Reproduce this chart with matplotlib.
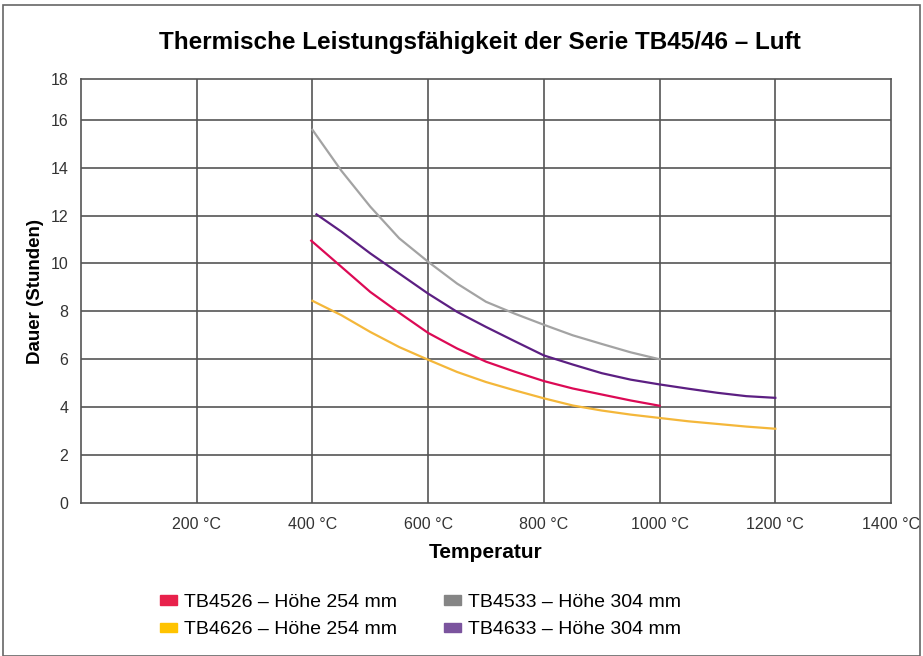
import matplotlib.pyplot as plt
from matplotlib.patches import Patch, Rectangle

plt.rcParams['font.family'] = ['Liberation Sans', 'DejaVu Sans']

# data (temperature in degC, duration in hours)
temp_tb4526 = [398, 450, 500, 550, 600, 650, 700, 750, 800, 850, 900, 950, 1000]
dur_tb4526 = [10.95, 9.86, 8.81, 7.94, 7.10, 6.45, 5.90, 5.48, 5.09, 4.78, 4.53, 4.28, 4.06]

temp_tb4626 = [400, 450, 500, 550, 600, 650, 700, 750, 800, 850, 900, 950,
               1000, 1050, 1100, 1150, 1200]
dur_tb4626 = [8.44, 7.84, 7.14, 6.51, 5.98, 5.47, 5.05, 4.70, 4.37, 4.07, 3.86, 3.69,
              3.55, 3.41, 3.30, 3.19, 3.10]

temp_tb4533 = [400, 450, 500, 550, 600, 650, 700, 750, 800, 850, 900, 950, 1000]
dur_tb4533 = [15.58, 13.87, 12.37, 11.05, 10.07, 9.16, 8.40, 7.90, 7.44, 7.00, 6.64, 6.29, 6.0]

temp_tb4633 = [407, 450, 500, 550, 600, 650, 700, 750, 800, 850, 900, 950,
               1000, 1050, 1100, 1150, 1200]
dur_tb4633 = [12.05, 11.33, 10.42, 9.58, 8.74, 7.98, 7.35, 6.75, 6.16, 5.78, 5.42, 5.15,
              4.95, 4.77, 4.60, 4.46, 4.39]

x_ticks = [200, 400, 600, 800, 1000, 1200, 1400]
x_labels = ['200 °C', '400 °C', '600 °C', '800 °C', '1000 °C', '1200 °C', '1400 °C']
y_ticks = [0, 2, 4, 6, 8, 10, 12, 14, 16]
y_labels = ['0', '2', '4', '6', '8', '10', '12', '14', '16', '18']
y_top = 17.7  # plot area in the reference stops a bit below 18

series_labels = ['TB4526 – Höhe 254 mm', 'TB4626 – Höhe 254 mm',
                 'TB4533 – Höhe 304 mm', 'TB4633 – Höhe 304 mm']
line_colors = ['#DC0A55', '#F4B73A', '#A3A3A3', '#5C1F82']
patch_colors = ['#E8214B', '#FFC300', '#858585', '#7B549E']

fig = plt.figure(figsize=(9.23, 6.56), dpi=100)
ax = fig.add_axes([81 / 923, 1 - 503 / 656, 810 / 923, 424 / 656])

grid_col = '#555555'
for t in x_ticks[:-1]:
    ax.axvline(t, color=grid_col, lw=1.2, zorder=1)
for v in y_ticks[1:]:
    ax.axhline(v, color=grid_col, lw=1.2, zorder=1)

lw = 1.6
ax.plot(temp_tb4533, dur_tb4533, color=line_colors[2], lw=lw, zorder=3)
ax.plot(temp_tb4633, dur_tb4633, color=line_colors[3], lw=lw, zorder=3)
ax.plot(temp_tb4526, dur_tb4526, color=line_colors[0], lw=lw, zorder=3)
ax.plot(temp_tb4626, dur_tb4626, color=line_colors[1], lw=lw, zorder=3)

ax.set_xlim(0, 1400)
ax.set_ylim(0, y_top)
ax.set_xticks(x_ticks)
ax.set_xticklabels(x_labels)
ax.set_yticks(y_ticks + [y_top])
ax.set_yticklabels(y_labels)
ax.tick_params(length=0, labelsize=11.5, labelcolor='#333333', pad=9)
ax.tick_params(axis='x', pad=10)
for s in ax.spines.values():
    s.set_color(grid_col)
    s.set_linewidth(1.2)

ax.set_xlabel('Temperatur', fontsize=15, fontweight='bold', labelpad=8)
ax.set_ylabel('Dauer (Stunden)', fontsize=13.5, fontweight='bold', labelpad=5)

fig.text(480 / 923, 1 - 42 / 656, 'Thermische Leistungsfähigkeit der Serie TB45/46 – Luft',
         ha='center', va='center', fontsize=17.5, fontweight='bold')

handles = [Patch(color=c) for c in patch_colors]
leg = fig.legend(handles, series_labels, ncol=2, loc='upper left',
                 bbox_to_anchor=(150 / 923, 1 - 584 / 656), frameon=False,
                 borderpad=0, fontsize=14, handlelength=0.9, handleheight=0.4,
                 handletextpad=0.35, columnspacing=2.4, labelspacing=0.55)

fig.patches.append(Rectangle((3 / 923, 0.5 / 656), 917 / 923, 651 / 656,
                             transform=fig.transFigure, fill=False,
                             edgecolor='#666666', lw=1.2))

fig.savefig('out.png', dpi=100)
